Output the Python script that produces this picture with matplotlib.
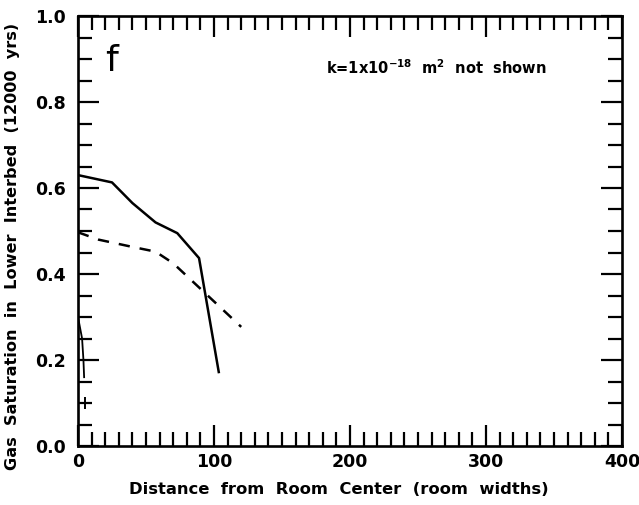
import matplotlib
matplotlib.use("Agg")
import matplotlib.pyplot as plt
from matplotlib.ticker import MultipleLocator

# Data
solid_x = [0, 25, 40, 57, 73, 89, 103.5]
solid_y = [0.630, 0.613, 0.565, 0.520, 0.495, 0.437, 0.172]

dashed_x = [0, 15, 40, 57, 70, 120]
dashed_y = [0.497, 0.480, 0.463, 0.452, 0.425, 0.277]

short_x = [0, 3, 4, 4.5]
short_y = [0.30, 0.25, 0.20, 0.16]

marker_x = [5]
marker_y = [0.10]

x_ticks = [0, 100, 200, 300, 400]
y_ticks = [0.0, 0.2, 0.4, 0.6, 0.8, 1.0]

plt.rcParams['font.family'] = ['DejaVu Sans']

fig = plt.figure(figsize=(6.39, 5.05), dpi=100)
ax = fig.add_axes([78/639, 1-446/505, (622-78)/639, (446-16)/505])

ax.plot(solid_x, solid_y, color='black', lw=1.8, solid_joinstyle='round')
ax.plot(dashed_x, dashed_y, color='black', lw=1.8, dashes=(4.5, 4))
ax.plot(short_x, short_y, color='black', lw=1.3)
ax.plot(marker_x, marker_y, marker='+', color='black', ms=9, mew=1.4, ls='none')

ax.set_xlim(0, 400)
ax.set_ylim(0, 1.0)
ax.set_xticks(x_ticks)
ax.set_yticks(y_ticks)
ax.set_xticklabels([str(v) for v in x_ticks], fontweight='heavy', fontsize=12.5)
ax.set_yticklabels([f"{v:.1f}" for v in y_ticks], fontweight='heavy', fontsize=12.5)
ax.xaxis.set_minor_locator(MultipleLocator(10))
ax.yaxis.set_minor_locator(MultipleLocator(0.05))
ax.tick_params(which='both', direction='in', top=True, right=True, width=1.6)
ax.tick_params(which='major', length=15)
ax.tick_params(axis='x', which='major', pad=5)
ax.tick_params(axis='y', which='major', pad=9)
ax.tick_params(which='minor', length=10)
for s in ax.spines.values():
    s.set_linewidth(1.9)

ax.set_xlabel("Distance  from  Room  Center  (room  widths)", fontweight='heavy', fontsize=11.8)
ax.set_ylabel("Gas  Saturation  in  Lower  Interbed  (12000  yrs)", fontweight='heavy', fontsize=11.6)
ax.xaxis.set_label_coords(0.48, -0.102)
ax.yaxis.set_label_coords(-0.121, 0.465)
ax.xaxis.label.set_va('center')
ax.yaxis.label.set_va('center')

ax.text(25, 0.895, "f", fontsize=26, ha='center', va='center')
ax.text(182, 0.879, r"k=1x10$^{\mathbf{-18}}$  m$^{\mathbf{2}}$  not  shown", fontsize=10.5,
        fontweight='bold', ha='left', va='center')

fig.savefig("out.png", dpi=100)
